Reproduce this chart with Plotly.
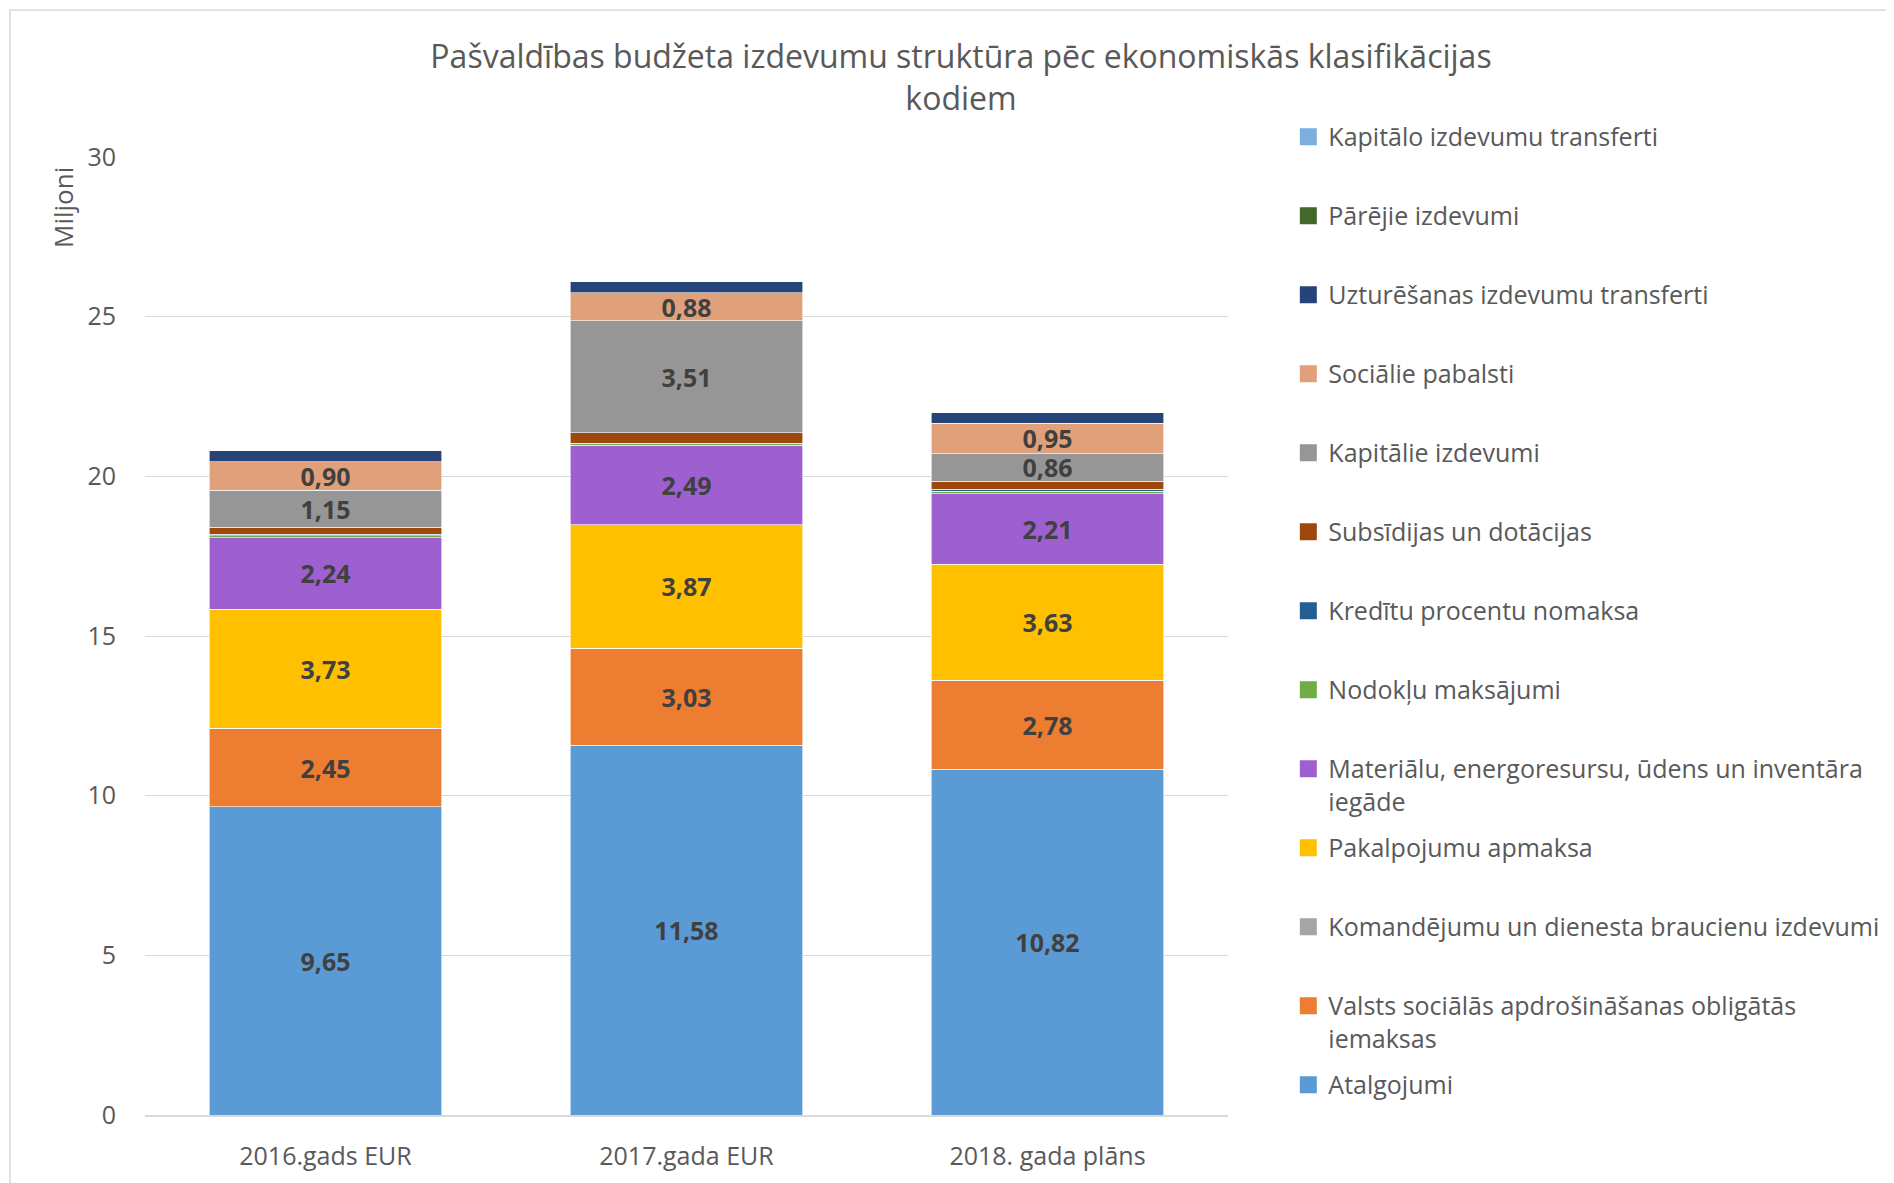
import plotly.graph_objects as go

categories = ["2016.gads EUR", "2017.gada EUR", "2018. gada plāns"]

series_names = [
    "Atalgojumi",
    "Valsts sociālās apdrošināšanas obligātās<br>iemaksas",
    "Komandējumu un dienesta braucienu izdevumi",
    "Pakalpojumu apmaksa",
    "Materiālu, energoresursu, ūdens un inventāra<br>iegāde",
    "Nodokļu maksājumi",
    "Kredītu procentu nomaksa",
    "Subsīdijas un dotācijas",
    "Kapitālie izdevumi",
    "Sociālie pabalsti",
    "Uzturēšanas izdevumu transferti",
    "Pārējie izdevumi",
    "Kapitālo izdevumu transferti",
]

atalgojumi = [9.65, 11.58, 10.82]
vsaoi = [2.45, 3.03, 2.78]
komandejumi = [0.01, 0.01, 0.01]
pakalpojumi = [3.73, 3.87, 3.63]
materiali = [2.24, 2.49, 2.21]
nodokli = [0.06, 0.04, 0.08]
kreditu_procenti = [0.05, 0.01, 0.06]
subsidijas = [0.22, 0.33, 0.26]
kapitalie = [1.15, 3.51, 0.86]
socialie = [0.90, 0.88, 0.95]
uzturesanas = [0.34, 0.35, 0.34]
parejie = [0.0, 0.0, 0.0]
kapitalo_transferti = [0.0, 0.0, 0.0]

series_values = [atalgojumi, vsaoi, komandejumi, pakalpojumi, materiali, nodokli,
                 kreditu_procenti, subsidijas, kapitalie, socialie, uzturesanas,
                 parejie, kapitalo_transferti]

colors = ["#5B9BD5", "#ED7D31", "#A5A5A5", "#FFC000", "#9E5FD0", "#70AD47",
          "#255E91", "#9E480E", "#969696", "#E0A07A", "#264478", "#43682B", "#7CAFDD"]

labeled = {0, 1, 3, 4, 8, 9}

fig = go.Figure()
for i, (name, vals, col) in enumerate(zip(series_names, series_values, colors)):
    legend_name = name if "<br>" in name else name + "<br>\u00a0"
    fig.add_trace(go.Bar(
        x=categories, y=vals, name=name.replace("<br>", " "), legendgroup=f"g{i}",
        showlegend=False,
        marker=dict(color=col, line=dict(color="white", width=0.6)),
        texttemplate="%{y:.2f}" if i in labeled else None,
        textposition="inside" if i in labeled else "none",
        insidetextanchor="middle",
        textangle=0,
        textfont=dict(family="Open Sans", size=25, color="#404040", weight="bold"),
        hoverinfo="x+y+name",
    ))
    # legend entry (square swatch like the original)
    fig.add_trace(go.Scatter(
        x=[None], y=[None], mode="markers", name=legend_name,
        legendgroup=f"g{i}", legendrank=1000 - 10 * i, showlegend=True,
        marker=dict(symbol="square", size=15, color=col, line=dict(color=col, width=2)),
        hoverinfo="skip",
    ))

L, R, T, B = 137, 674, 149, 76
PW = 1894 - L - R
PH = 1183 - T - B

fig.update_layout(
    barmode="stack",
    bargap=0.357,
    separators=", ",
    width=1894, height=1183,
    margin=dict(l=L, r=R, t=T, b=B),
    paper_bgcolor="white", plot_bgcolor="white",
    font=dict(family="Open Sans", color="#595959", size=25),
    uniformtext=dict(minsize=25, mode="show"),
    title=dict(
        text="Pašvaldības budžeta izdevumu struktūra pēc ekonomiskās klasifikācijas<br>kodiem",
        x=953 / 1894, xref="container", xanchor="center",
        y=1 - 60 / 1183, yref="container", yanchor="middle",
        font=dict(family="Open Sans", size=32, color="#595959"),
    ),
    legend=dict(
        x=1.0557, xanchor="left", y=1.045, yanchor="top",
        traceorder="grouped", tracegroupgap=11,
        valign="top", maxheight=1100, itemwidth=30,
        font=dict(family="Open Sans", size=25, color="#595959"),
        bgcolor="rgba(0,0,0,0)",
    ),
    xaxis=dict(showgrid=False, showline=True, linecolor="#D9D9D9", linewidth=2,
               ticks="", ticklabelstandoff=18),
    yaxis=dict(range=[0, 30], dtick=5, showgrid=True, gridcolor="#D9D9D9",
               gridwidth=1.3, zeroline=False, showline=False, ticks="",
               ticklabelstandoff=28),
    annotations=[dict(
        text="Miljoni", textangle=-90, xref="paper", yref="paper",
        x=(55 - L) / PW, y=(1107 - 200) / PH, showarrow=False,
        xanchor="center", yanchor="middle",
        font=dict(family="Open Sans", size=26, color="#595959"),
    )],
    shapes=[dict(
        type="rect", xref="paper", yref="paper",
        x0=(2 - L) / PW, x1=2.0, y0=-0.5, y1=(1107 - 2) / PH,
        line=dict(color="#D9D9D9", width=1.5), fillcolor="rgba(0,0,0,0)", layer="below",
    )],
)

fig.write_html("out.html")
